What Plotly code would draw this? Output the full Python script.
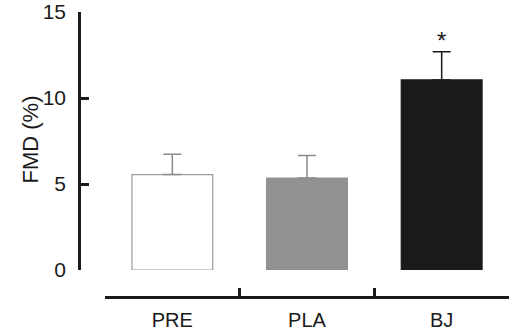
import plotly.graph_objects as go

categories = ["PRE", "PLA", "BJ"]
means = [5.55, 5.35, 11.05]
sem = [1.18, 1.3, 1.64]
fill_colors = ["#ffffff", "#8f9193", "#1a1a1a"]
line_colors = ["#9a9a9a", "#8f9193", "#1a1a1a"]
err_colors = ["#8a8a8a", "#8a8a8a", "#1a1a1a"]
y_ticks = [0, 5, 10, 15]

W, H = 512, 333
fig = go.Figure()
for c, m, s, fc, lc, ec in zip(categories, means, sem, fill_colors, line_colors, err_colors):
    fig.add_trace(go.Bar(
        x=[c], y=[m], width=0.6,
        marker=dict(color=fc, line=dict(color=lc, width=1.2)),
        error_y=dict(type="data", array=[s], arrayminus=[0], symmetric=False,
                     color=ec, thickness=1.5, width=9),
        showlegend=False,
    ))

fig.add_annotation(x="BJ", y=means[2] + sem[2], xref="x", yref="y",
                   text="*", showarrow=False, yanchor="bottom", yshift=-4,
                   font=dict(size=24, color="#1a1a1a"))
fig.add_annotation(x=15 / W, y=(333 - 140) / H, xref="paper", yref="paper",
                   text="FMD (%)", showarrow=False, textangle=-90,
                   font=dict(size=22, color="#1a1a1a"))

fig.update_layout(
    width=W, height=H, margin=dict(l=0, r=0, t=0, b=0, pad=0, autoexpand=False),
    plot_bgcolor="white", paper_bgcolor="white",
    barmode="overlay",
    font=dict(family="Liberation Sans, Arial, sans-serif", size=20, color="#1a1a1a"),
    xaxis=dict(
        domain=[105 / W, 509 / W], anchor="free", position=36 / H, automargin=False,
        categoryorder="array", categoryarray=categories,
        showline=True, linecolor="#1a1a1a", linewidth=2.5,
        ticks="inside", tickson="boundaries", ticklen=8, tickwidth=2.5, tickcolor="#1a1a1a",
        ticklabelstandoff=4, showgrid=False, zeroline=False,
        tickfont=dict(size=20),
    ),
    yaxis=dict(
        domain=[63 / H, 321 / H], range=[0, 15], anchor="free", position=79 / W, automargin=False,
        tickvals=y_ticks, showline=True, linecolor="#1a1a1a", linewidth=2.5,
        ticks="inside", ticklen=8, tickwidth=2.5, tickcolor="#1a1a1a",
        ticklabelstandoff=8, showgrid=False, zeroline=False,
        tickfont=dict(size=21),
    ),
)
fig.write_html("out.html", config={"displayModeBar": False},
               post_script="document.body.style.margin='0px';document.body.style.overflow='hidden';")
